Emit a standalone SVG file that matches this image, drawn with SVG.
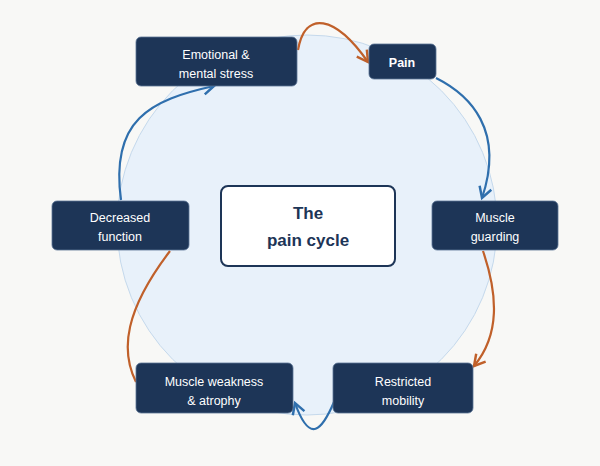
<svg xmlns="http://www.w3.org/2000/svg" width="600" height="466" viewBox="0 0 600 466">
<style>
.n{fill:#1d3557;stroke:#5a7394;stroke-width:0.8}
.t{font-family:"Liberation Sans",Arial,sans-serif;font-size:12.5px;fill:#fff;text-anchor:middle}
.o{fill:none;stroke:#c0602a;stroke-width:2.2}
.b{fill:none;stroke:#2f6fad;stroke-width:2.2}
</style>
<defs>
<marker id="ao" viewBox="0 0 10 10" refX="8" refY="5" markerWidth="7" markerHeight="7" orient="auto"><path d="M1,1 L8,5 L1,9" fill="none" stroke="#c0602a" stroke-width="1.6"/></marker>
<marker id="ab" viewBox="0 0 10 10" refX="8" refY="5" markerWidth="7" markerHeight="7" orient="auto"><path d="M1,1 L8,5 L1,9" fill="none" stroke="#2f6fad" stroke-width="1.6"/></marker>
</defs>
<rect width="600" height="466" fill="#f8f8f6"/>
<circle cx="307" cy="225" r="190" fill="#e8f1fa" stroke="#c5d9ec" stroke-width="1"/>
<g id="connectors">
<path class="o" d="M298,50 C305,10 335,15 368,62" marker-end="url(#ao)"/>
<path class="b" d="M436,78 C470,95 505,130 482,198" marker-end="url(#ab)"/>
<path class="o" d="M483,251 C498,295 500,335 474,366" marker-end="url(#ao)"/>
<path class="b" d="M334,402 C322,430 310,445 295,403" marker-end="url(#ab)"/>
<path class="o" d="M136,382 C120,350 125,310 170,251"/>
<path class="b" d="M121,200 C110,120 150,100 214,86" marker-end="url(#ab)"/>
</g>
<g id="center"><rect x="221" y="186" width="174" height="80" rx="7" fill="#fff" stroke="#1d3557" stroke-width="2"/>
<text x="308" y="219" font-family="Liberation Sans,Arial,sans-serif" font-size="17" font-weight="bold" fill="#1d3557" text-anchor="middle">The</text>
<text x="308" y="246" font-family="Liberation Sans,Arial,sans-serif" font-size="17" font-weight="bold" fill="#1d3557" text-anchor="middle">pain cycle</text></g>
<g id="emotional"><rect class="n" x="136" y="37" width="161" height="49" rx="5"/><text class="t" x="216" y="59">Emotional &amp;</text><text class="t" x="216" y="78">mental stress</text></g>
<g id="pain"><rect class="n" x="369" y="44" width="67" height="35" rx="5"/><text class="t" x="402" y="67" font-weight="bold" font-size="14">Pain</text></g>
<g id="guarding"><rect class="n" x="432" y="201" width="126" height="49" rx="5"/><text class="t" x="495" y="222">Muscle</text><text class="t" x="495" y="241">guarding</text></g>
<g id="mobility"><rect class="n" x="333" y="363" width="140" height="50" rx="5"/><text class="t" x="403" y="386">Restricted</text><text class="t" x="403" y="405">mobility</text></g>
<g id="weakness"><rect class="n" x="136" y="363" width="157" height="50" rx="5"/><text class="t" x="214" y="386">Muscle weakness</text><text class="t" x="214" y="405">&amp; atrophy</text></g>
<g id="decreased"><rect class="n" x="52" y="201" width="137" height="49" rx="5"/><text class="t" x="120" y="222">Decreased</text><text class="t" x="120" y="241">function</text></g>
</svg>
